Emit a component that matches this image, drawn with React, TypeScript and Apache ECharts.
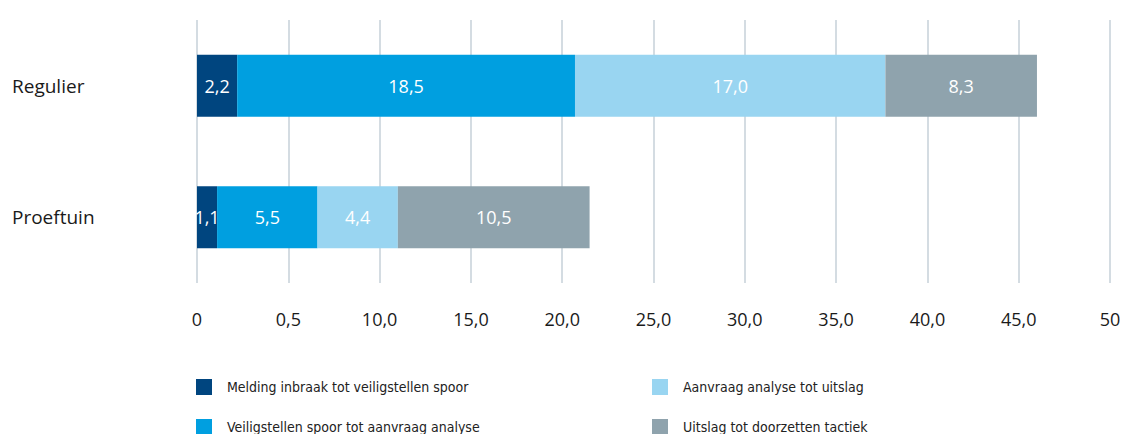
import React, { useEffect, useRef } from "react";
import * as echarts from "echarts";

const categories = ["Regulier", "Proeftuin"];
const seriesNames = [
  "Melding inbraak tot veiligstellen spoor",
  "Veiligstellen spoor tot aanvraag analyse",
  "Aanvraag analyse tot uitslag",
  "Uitslag tot doorzetten tactiek",
];
const meldingValues = [2.2, 1.1];
const veiligstellenValues = [18.5, 5.5];
const aanvraagValues = [17.0, 4.4];
const uitslagValues = [8.3, 10.5];
const tickLabels = ["0", "0,5", "10,0", "15,0", "20,0", "25,0", "30,0", "35,0", "40,0", "45,0", "50"];
const colors = ["#00457f", "#009fe0", "#99d5f1", "#8fa3ad"];

const FONT = "'Open Sans', 'Noto Sans', sans-serif";
const LEGEND_FONT = "'Liberation Sans Narrow', 'DejaVu Sans Condensed', sans-serif";

const legendPos = [
  { left: 191, top: 374 },
  { left: 191, top: 414 },
  { left: 647, top: 374 },
  { left: 647, top: 414 },
];

export default function App() {
  const ref = useRef<HTMLDivElement>(null);
  useEffect(() => {
    const chart = echarts.init(ref.current!, null, { renderer: "svg" });
    const all = [meldingValues, veiligstellenValues, aanvraagValues, uitslagValues];
    chart.setOption({
      animation: false,
      color: colors,
      grid: { left: 197, right: 16, top: 20, bottom: 151, containLabel: false },
      xAxis: {
        type: "value",
        min: 0,
        max: 50,
        interval: 5,
        axisLine: { show: false },
        axisTick: { show: false },
        splitLine: { show: true, lineStyle: { color: "#c6d1d9", width: 1.5 } },
        axisLabel: {
          margin: 27,
          color: "#1a1a1a",
          fontSize: 18,
          fontFamily: FONT,
          formatter: (v: number) => tickLabels[Math.round(v / 5)] ?? "",
        },
      },
      yAxis: {
        type: "category",
        inverse: true,
        data: categories,
        axisLine: { show: false },
        axisTick: { show: false },
        axisLabel: {
          align: "left",
          margin: 185,
          color: "#1a1a1a",
          fontSize: 19,
          fontFamily: FONT,
        },
      },
      legend: seriesNames.map((name, i) => ({
        data: [name],
        left: legendPos[i].left,
        top: legendPos[i].top,
        itemWidth: 16,
        itemHeight: 16,
        icon: "rect",
        textStyle: { fontSize: 14, color: "#222", fontFamily: LEGEND_FONT, padding: [0, 0, 0, 10] },
      })),
      series: seriesNames.map((name, i) => ({
        name,
        type: "bar",
        stack: "total",
        barWidth: 62,
        data: all[i],
        label: {
          show: true,
          position: "inside",
          color: "#ffffff",
          fontSize: 18,
          fontFamily: FONT,
          formatter: (p: any) => p.value.toFixed(1).replace(".", ","),
        },
      })),
    });
    return () => chart.dispose();
  }, []);
  return <div ref={ref} style={{ width: 1126, height: 434, position: "absolute", left: 0, top: 0 }} />;
}
